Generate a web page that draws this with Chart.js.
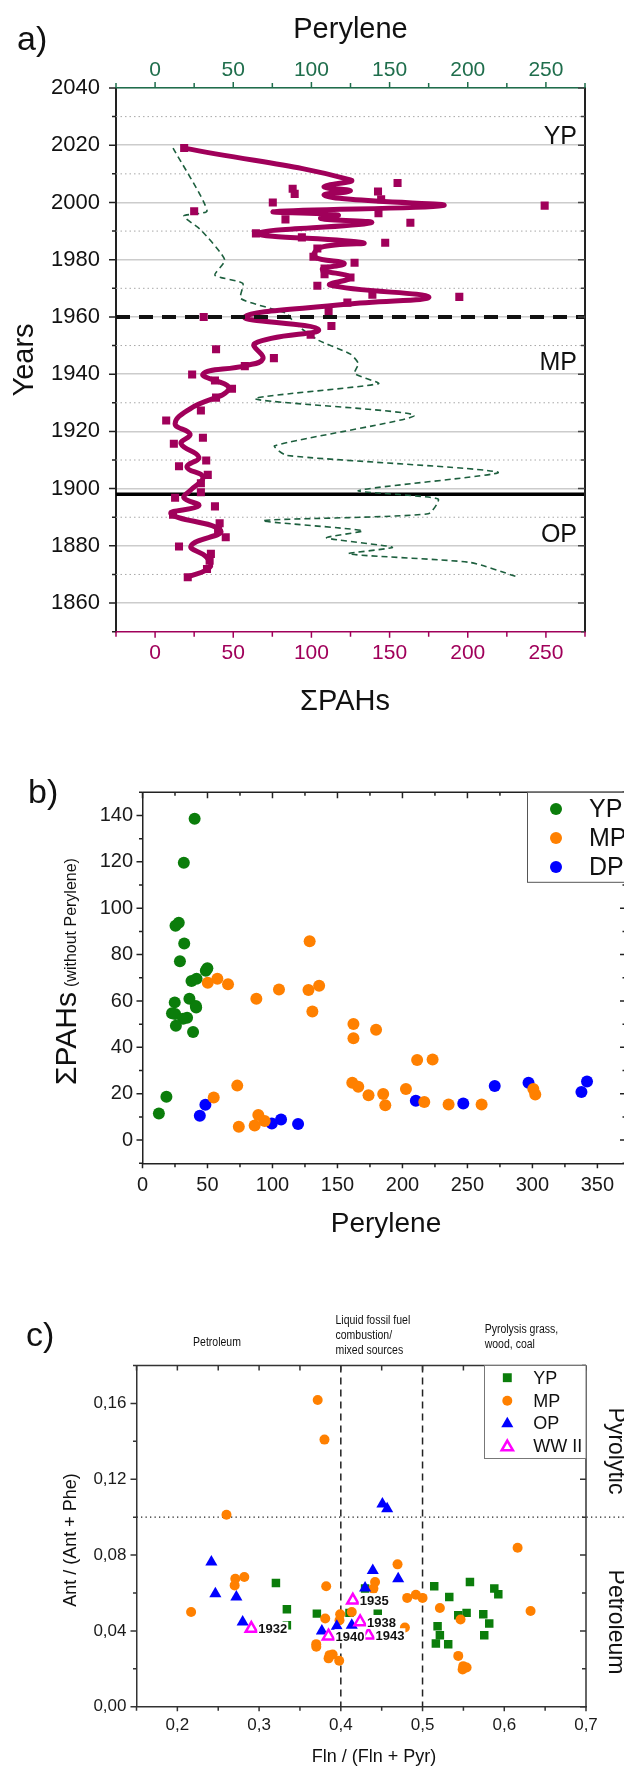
<!DOCTYPE html>
<html>
<head>
<meta charset="utf-8">
<script src="https://cdn.jsdelivr.net/npm/chart.js@4.4.1/dist/chart.umd.min.js"></script>
<style>
  html, body { margin: 0; padding: 0; background: #fff; overflow: hidden; width: 624px; height: 1767px; }
  canvas { position: absolute; left: 0; }
  #ca { top: 0; }
  #cb { top: 740px; }
  #cc { top: 1290px; }
</style>
</head>
<body>
<canvas id="ca" width="624" height="730"></canvas>
<canvas id="cb" width="640" height="520"></canvas>
<canvas id="cc" width="624" height="477"></canvas>
<script>
// ---- panel a: depth profile (sum of PAHs and perylene vs. year)
const yearTicks = [1860, 1880, 1900, 1920, 1940, 1960, 1980, 2000, 2020, 2040];
const pahTicks = [0, 50, 100, 150, 200, 250];
const periodBreaks = [1960, 1898];

const pahYears = [2019, 2006.8, 2004.8, 2003.8, 2003, 2001.1, 2000, 1998.9, 1996.9, 1996.2,
  1994.1, 1992.9, 1989.2, 1987.8, 1985.9, 1983.9, 1981, 1978.9, 1976.9, 1974.9,
  1973.8, 1970.9, 1967.8, 1967, 1965, 1961.8, 1960, 1956.8, 1953.8, 1948.7,
  1945.6, 1942.8, 1939.9, 1937.8, 1934.9, 1931.8, 1927.3, 1923.8, 1917.8, 1915.7,
  1909.8, 1907.8, 1904.8, 1901.9, 1898.7, 1896.8, 1893.8, 1890.9, 1887.9, 1885.9,
  1883, 1879.8, 1877.2, 1874.8, 1871.9, 1869];
const pahValues = [18.6, 155.1, 88.0, 142.6, 89.3, 144.6, 75.3, 249.2, 25.0, 142.9,
  83.4, 163.3, 64.5, 93.9, 147.2, 103.8, 101.3, 127.6, 108.4, 108.4,
  125, 103.8, 139, 194.6, 123, 111, 31.1, 112.8, 99.5, 39.0,
  76.0, 57.4, 23.7, 38.3, 49.2, 39.0, 29.3, 7.1, 30.6, 12.0,
  32.7, 15.3, 33.7, 29.3, 29.3, 12.8, 38.3, 11.5, 41.3, 40.3,
  45.2, 15.3, 35.7, 34.9, 33.2, 20.9];

// smoothed PAH curve
const pahCurveYears = [2019, 2007.9, 2005.5, 2004.1, 2002.6, 2001.1, 1998.9, 1996.8, 1995.6, 1994.4,
  1992.9, 1989.2, 1985.9, 1984.3, 1981, 1978.7, 1976.6, 1973.8, 1971.1, 1967,
  1964.4, 1960, 1955.6, 1950.7, 1945.4, 1943, 1940, 1934.9, 1927.9, 1922.7,
  1919, 1915.7, 1911, 1907.5, 1904, 1899.3, 1896.8, 1894, 1891.2, 1885.3,
  1880, 1876, 1872.5, 1869];
const pahCurveValues = [18.6, 125, 108, 125, 108, 125, 184, 76.5, 117, 106,
  138, 66, 133, 106, 102, 121, 107, 125, 112, 175,
  122, 57.4, 104.6, 63.8, 69, 58, 30.6, 47.2, 22.4, 12.8,
  22.4, 16.6, 28, 20.4, 30.6, 22.4, 18.4, 28, 10.2, 42,
  23, 33, 35, 20.4];

const perYears = [2019, 1997.1, 1995.3, 1990.4, 1979.9, 1974.6, 1971.7, 1966.4, 1961.2, 1957.7,
  1951.8, 1947, 1943.7, 1940.2, 1936.7, 1931.4, 1925.6, 1915, 1911.6, 1905.7,
  1899.3, 1896.4, 1891.2, 1888.8, 1885.3, 1882.8, 1879.5, 1877.2, 1874.2, 1869.3];
const perValues = [11.5, 33.2, 18.4, 29.3, 44.6, 38.3, 56.1, 54.8, 84.2, 89.3,
  104.6, 125, 130, 127.6, 142.9, 63.8, 165.8, 76.5, 84.2, 219.4,
  130, 181, 174.7, 68.9, 132.7, 109.7, 151.8, 123.7, 201.5, 230.9];

// ---- panel b: sum of PAHs (without perylene) vs. perylene
const perTicks = [0, 50, 100, 150, 200, 250, 300, 350];
const sumTicks = [0, 20, 40, 60, 80, 100, 120, 140];
const bPeriods = ['YP', 'MP', 'DP'];
const bYpX = [40.1, 31.8, 25.4, 27.9, 32.1, 28.8, 48.7, 49.9, 37.7, 41.6, 24.8, 36.1, 41.0, 41.3, 22.7, 25.1, 34.3, 31.2, 25.7, 38.9, 12.6, 18.4];
const bYpY = [138.6, 119.6, 92.4, 93.7, 84.8, 77.1, 73.0, 74.1, 68.6, 69.6, 59.4, 61.0, 57.8, 57.2, 54.7, 54.4, 52.8, 52.3, 49.3, 46.6, 11.5, 18.7];
const bMpX = [50.2, 57.6, 65.8, 87.6, 105.0, 127.7, 128.6, 135.9, 130.7, 162.3, 162.3, 179.7, 211.3, 223.2, 72.9, 54.8,
  74.1, 86.3, 89.1, 94.0, 161.4, 166.0, 173.9, 185.2, 186.8, 202.7, 216.8, 235.5, 260.9, 300.7, 302.2];
const bMpY = [67.9, 69.6, 67.2, 61.0, 65.0, 64.7, 85.8, 66.6, 55.5, 50.1, 43.9, 47.6, 34.5, 34.8, 23.5, 18.4,
  5.8, 6.3, 10.8, 8.2, 24.7, 23.0, 19.3, 19.9, 15.0, 22.0, 16.4, 15.4, 15.4, 22.0, 19.7];
const bDpX = [44.1, 48.4, 99.5, 106.6, 119.7, 210.3, 246.8, 271.0, 297.0, 337.7, 342.0];
const bDpY = [10.5, 15.3, 7.2, 8.9, 6.9, 17.0, 15.8, 23.3, 24.7, 20.7, 25.3];

// ---- panel c: Ant/(Ant+Phe) vs Fln/(Fln+Pyr)
const flnTicks = [0.2, 0.3, 0.4, 0.5, 0.6, 0.7];
const antTicks = [0, 0.04, 0.08, 0.12, 0.16];
const flnBounds = [0.4, 0.5];
const antBound = 0.1;
const cPeriods = ['YP', 'MP', 'OP', 'WW II'];
const cYpX = [0.3206, 0.334, 0.3707, 0.334, 0.4106, 0.4452, 0.4297, 0.5143, 0.5327, 0.558, 0.5878, 0.5927, 0.5437, 0.5539, 0.5743, 0.5816, 0.5755, 0.5184, 0.5212, 0.5163, 0.5314];
const cYpY = [0.0653, 0.0514, 0.0491, 0.043, 0.0495, 0.0491, 0.0623, 0.0635, 0.0579, 0.0658, 0.0623, 0.0593, 0.0482, 0.0495, 0.0488, 0.0439, 0.0377, 0.0425, 0.0377, 0.0333, 0.033];
const cMpX = [0.3717, 0.380, 0.2601, 0.2168, 0.2709, 0.2701, 0.2819, 0.3821, 0.3809, 0.3992, 0.3984, 0.4134, 0.3699, 0.37, 0.3862, 0.385, 0.39,
  0.398, 0.4419, 0.4399, 0.4694, 0.4812, 0.4918, 0.5, 0.5212, 0.4784, 0.5465, 0.5437, 0.5498, 0.5539, 0.549, 0.6163, 0.6322];
const cMpY = [0.1618, 0.1409, 0.1013, 0.05, 0.0675, 0.064, 0.0684, 0.0635, 0.0465, 0.0488, 0.0456, 0.05, 0.033, 0.0316, 0.0272, 0.0255, 0.0275,
  0.0242, 0.0658, 0.0623, 0.0751, 0.0574, 0.0591, 0.0574, 0.0521, 0.0418, 0.046, 0.0268, 0.0214, 0.0207, 0.0196, 0.0839, 0.0505];
const cOpX = [0.2416, 0.2465, 0.2722, 0.2799, 0.3768, 0.3951, 0.4134, 0.4297, 0.4391, 0.4702, 0.4509, 0.4567];
const cOpY = [0.0763, 0.0596, 0.0579, 0.0447, 0.04, 0.0425, 0.043, 0.0626, 0.0719, 0.0675, 0.107, 0.1044];
const cWwX = [0.2905, 0.3849, 0.4147, 0.4338, 0.4236];
const cWwY = [0.0412, 0.0372, 0.0561, 0.0377, 0.0447];
const cWwLabels = ['1932', '1940', '1935', '1943', '1938'];

const FONT = "'Liberation Sans', Arial, Helvetica, sans-serif";
const MAGENTA = '#a0005a';
const PER_GREEN = '#1d5f3e';
const AXIS_GREEN = '#1f6e4c';
const YP_GREEN = '#0b7d0b';
const MP_ORANGE = '#ff8000';
const OP_BLUE = '#0000ff';
const WW_PINK = '#ff00ff';

Chart.defaults.font.family = FONT;
Chart.defaults.color = '#111';

function pts(xs, ys) {
  return xs.map((x, i) => ({ x: x, y: ys[i] }));
}

function setTicks(list) {
  return s => { s.ticks = list.map(v => ({ value: v })); };
}

function minorVals(list, scale) {
  const step = list[1] - list[0];
  const out = [];
  for (let v = list[0] - step / 2; v <= scale.max + step * 1e-6; v += step) {
    if (v >= scale.min - step * 1e-6) out.push(v);
  }
  return out;
}

function line(ctx, x1, y1, x2, y2, color, width, dash) {
  ctx.save();
  ctx.strokeStyle = color;
  ctx.lineWidth = width;
  ctx.setLineDash(dash || []);
  ctx.beginPath();
  ctx.moveTo(x1, y1);
  ctx.lineTo(x2, y2);
  ctx.stroke();
  ctx.restore();
}

function frameTicks(ctx, a, side, scale, major, minor, lenMaj, lenMin, inward, color) {
  ctx.save();
  ctx.strokeStyle = color || '#222';
  ctx.lineWidth = 1.5;
  ctx.beginPath();
  const add = (v, len) => {
    const p = scale.getPixelForValue(v);
    const d = inward ? -len : len;
    if (side === 'left') { ctx.moveTo(a.left, p); ctx.lineTo(a.left - d, p); }
    else if (side === 'right') { ctx.moveTo(a.right, p); ctx.lineTo(a.right + d, p); }
    else if (side === 'top') { ctx.moveTo(p, a.top); ctx.lineTo(p, a.top - d); }
    else { ctx.moveTo(p, a.bottom); ctx.lineTo(p, a.bottom + d); }
  };
  major.forEach(v => add(v, lenMaj));
  minor.forEach(v => add(v, lenMin));
  ctx.stroke();
  ctx.restore();
}

function text(ctx, str, x, y, o) {
  ctx.save();
  ctx.translate(x, y);
  if (o.rotate) ctx.rotate(o.rotate);
  if (o.sx) ctx.scale(o.sx, 1);
  ctx.font = o.font;
  ctx.fillStyle = o.color || '#111';
  ctx.textAlign = o.align || 'left';
  ctx.textBaseline = o.baseline || 'alphabetic';
  ctx.fillText(str, 0, 0);
  const w = ctx.measureText(str).width;
  ctx.restore();
  return w;
}

function marker(ctx, style, x, y, r, fill, stroke, lw) {
  ctx.save();
  ctx.beginPath();
  if (style === 'circle') {
    ctx.arc(x, y, r, 0, Math.PI * 2);
  } else if (style === 'rect') {
    const h = r * Math.SQRT1_2;
    ctx.rect(x - h, y - h, 2 * h, 2 * h);
  } else {
    for (let k = 0; k < 3; k++) {
      const ang = k * 2 * Math.PI / 3;
      const px = x + Math.sin(ang) * r, py = y - Math.cos(ang) * r;
      if (k) ctx.lineTo(px, py); else ctx.moveTo(px, py);
    }
    ctx.closePath();
  }
  if (fill) { ctx.fillStyle = fill; ctx.fill(); }
  if (stroke) { ctx.strokeStyle = stroke; ctx.lineWidth = lw; ctx.stroke(); }
  ctx.restore();
}

const baseOptions = {
  responsive: false,
  animation: false,
  events: [],
  plugins: { legend: { display: false }, tooltip: { enabled: false } }
};

// ================= panel a =================
const panelA = {
  id: 'panelA',
  beforeDatasetsDraw(chart) {
    const { ctx, chartArea: a, scales: { y } } = chart;
    minorVals(yearTicks, y).forEach(v => {
      if (v > y.min && v < y.max) {
        const p = y.getPixelForValue(v);
        line(ctx, a.left, p, a.right, p, '#a8a8a8', 1, [1.5, 3]);
      }
    });
    const pb = y.getPixelForValue(periodBreaks[1]);
    line(ctx, a.left, pb, a.right, pb, '#000', 3.5);
  },
  afterDatasetsDraw(chart) {
    const { ctx, chartArea: a, scales: { y } } = chart;
    const p = y.getPixelForValue(periodBreaks[0]);
    line(ctx, a.left, p, a.right, p, '#111', 4, [14, 9]);
  },
  afterDraw(chart) {
    const { ctx, chartArea: a, scales: { x, x2, y } } = chart;
    line(ctx, a.right, a.top, a.right, a.bottom, '#222', 2);
    const ym = minorVals(yearTicks, y);
    const xm = minorVals(pahTicks, x);
    frameTicks(ctx, a, 'left', y, yearTicks, ym, 7, 4, false, '#222');
    frameTicks(ctx, a, 'right', y, yearTicks, ym, 7, 4, true, '#444');
    frameTicks(ctx, a, 'top', x2, pahTicks, xm, 6, 5, false, AXIS_GREEN);
    frameTicks(ctx, a, 'bottom', x, pahTicks, xm, 6, 5, false, MAGENTA);

    text(ctx, 'a)', 17, 50, { font: '34px ' + FONT });
    text(ctx, 'Perylene', (a.left + a.right) / 2, 38, { font: '29px ' + FONT, align: 'center' });
    text(ctx, 'Years', 33, 360, { font: '29px ' + FONT, align: 'center', rotate: -Math.PI / 2 });
    text(ctx, '\u03A3PAHs', 345, 710, { font: '29px ' + FONT, align: 'center' });
    const lab = [['YP', 2020.6], ['MP', 1941.6], ['OP', 1881.4]];
    lab.forEach(([t, v]) => {
      text(ctx, t, a.right - 8, y.getPixelForValue(v), { font: '25px ' + FONT, align: 'right' });
    });
  }
};

new Chart(document.getElementById('ca'), {
  type: 'scatter',
  data: {
    datasets: [
      { data: pts(pahCurveValues, pahCurveYears), showLine: true, pointRadius: 0, borderColor: MAGENTA,
        borderWidth: 5, tension: 0.45, xAxisID: 'x', yAxisID: 'y' },
      { data: pts(pahValues, pahYears), pointStyle: 'rect', pointRadius: 5.7, pointBackgroundColor: MAGENTA,
        pointBorderWidth: 0, xAxisID: 'x', yAxisID: 'y' },
      { data: pts(perValues, perYears), showLine: true, pointRadius: 0, borderColor: PER_GREEN,
        borderWidth: 1.6, borderDash: [6, 4], tension: 0.2, xAxisID: 'x2', yAxisID: 'y' }
    ]
  },
  options: Object.assign({}, baseOptions, {
    layout: { padding: { left: 0, right: 39, top: 0, bottom: 0 } },
    scales: {
      y: {
        type: 'linear', position: 'left', min: 1850, max: 2040,
        afterBuildTicks: setTicks(yearTicks),
        ticks: { padding: 16, color: '#111', font: { size: 22 }, callback: v => String(v) },
        grid: { color: '#cccccc', lineWidth: 1.5, drawTicks: false },
        border: { color: '#222', width: 2 },
        afterFit: s => { s.width = 116; }
      },
      x: {
        type: 'linear', position: 'bottom', min: -25, max: 275,
        afterBuildTicks: setTicks(pahTicks),
        ticks: { padding: 9, color: MAGENTA, font: { size: 21 }, callback: v => String(v) },
        grid: { display: false, drawTicks: false },
        border: { color: MAGENTA, width: 1.5 },
        afterFit: s => { s.height = 98.3; }
      },
      x2: {
        type: 'linear', position: 'top', min: -25, max: 275,
        afterBuildTicks: setTicks(pahTicks),
        ticks: { padding: 5, color: AXIS_GREEN, font: { size: 21 }, callback: v => String(v) },
        grid: { display: false, drawTicks: false },
        border: { color: AXIS_GREEN, width: 1.5 },
        afterFit: s => { s.height = 88; }
      }
    }
  }),
  plugins: [panelA]
});

// ================= panel b =================
const panelB = {
  id: 'panelB',
  afterDraw(chart) {
    const { ctx, chartArea: a, scales: { x, y } } = chart;
    line(ctx, a.left, a.top, a.right, a.top, '#222', 1.5);
    line(ctx, a.right, a.top, a.right, a.bottom, '#222', 1.5);
    const ym = minorVals(sumTicks, y);
    const xm = minorVals(perTicks, x);
    frameTicks(ctx, a, 'left', y, sumTicks, ym, 6, 3.5, false);
    frameTicks(ctx, a, 'right', y, sumTicks, ym, 6, 3.5, true);
    frameTicks(ctx, a, 'bottom', x, perTicks, xm, 5, 4, false);
    frameTicks(ctx, a, 'top', x, perTicks, xm, 6, 3.5, true);

    // legend
    ctx.save();
    ctx.fillStyle = '#fff';
    ctx.strokeStyle = '#555';
    ctx.lineWidth = 1;
    ctx.fillRect(527.5, a.top, 120, 90);
    ctx.strokeRect(527.5, a.top, 120, 90);
    ctx.restore();
    const cols = [YP_GREEN, MP_ORANGE, OP_BLUE];
    bPeriods.forEach((t, i) => {
      const yy = 69 + i * 29;
      marker(ctx, 'circle', 556, yy, 6, cols[i]);
      text(ctx, t, 589, yy + 1, { font: '25px ' + FONT, baseline: 'middle' });
    });

    text(ctx, 'b)', 28, 63, { font: '34px ' + FONT });
    text(ctx, 'Perylene', 386, 492, { font: '28px ' + FONT, align: 'center' });
    const w = text(ctx, '\u03A3PAHs', 76, 345, { font: '30px ' + FONT, rotate: -Math.PI / 2 });
    text(ctx, '(without Perylene)', 76, 345 - w - 5, { font: '16px ' + FONT, rotate: -Math.PI / 2 });
  }
};

new Chart(document.getElementById('cb'), {
  type: 'scatter',
  data: {
    datasets: [
      { label: 'YP', data: pts(bYpX, bYpY), pointRadius: 6, pointBackgroundColor: YP_GREEN, pointBorderWidth: 0 },
      { label: 'MP', data: pts(bMpX, bMpY), pointRadius: 6, pointBackgroundColor: MP_ORANGE, pointBorderWidth: 0 },
      { label: 'DP', data: pts(bDpX, bDpY), pointRadius: 6, pointBackgroundColor: OP_BLUE, pointBorderWidth: 0 }
    ]
  },
  options: Object.assign({}, baseOptions, {
    layout: { padding: { left: 0, right: 14, top: 52.3, bottom: 0 } },
    scales: {
      x: {
        type: 'linear', position: 'bottom', min: 0, max: 372,
        afterBuildTicks: setTicks(perTicks),
        ticks: { padding: 10, color: '#1a1a1a', font: { size: 20 }, callback: v => String(v) },
        grid: { display: false, drawTicks: false },
        border: { color: '#222', width: 1.5 },
        afterFit: s => { s.height = 96.7; }
      },
      y: {
        type: 'linear', position: 'left', min: -10, max: 150,
        afterBuildTicks: setTicks(sumTicks),
        ticks: { padding: 9.5, color: '#1a1a1a', font: { size: 20 }, callback: v => String(v) },
        grid: { display: false, drawTicks: false },
        border: { color: '#222', width: 1.5 },
        afterFit: s => { s.width = 142.5; }
      }
    }
  }),
  plugins: [panelB]
});

// ================= panel c =================
const panelC = {
  id: 'panelC',
  beforeDatasetsDraw(chart) {
    const { ctx, chartArea: a, scales: { x, y } } = chart;
    flnBounds.forEach(v => {
      const p = x.getPixelForValue(v);
      line(ctx, p, a.top, p, a.bottom, '#222', 1.5, [7, 5]);
    });
    const py = y.getPixelForValue(antBound);
    line(ctx, a.left, py, chart.width, py, '#222', 1.3, [1.3, 3.2]);
  },
  afterDatasetsDraw(chart) {
    const { ctx, scales: { x, y } } = chart;
    cWwLabels.forEach((t, i) => {
      const px = x.getPixelForValue(cWwX[i]) + 7;
      const py = y.getPixelForValue(cWwY[i]);
      ctx.save();
      ctx.font = 'bold 13px ' + FONT;
      const w = ctx.measureText(t).width;
      ctx.fillStyle = '#fff';
      ctx.fillRect(px - 1, py - 7, w + 2, 14);
      ctx.restore();
      text(ctx, t, px, py + 1, { font: 'bold 13px ' + FONT, baseline: 'middle', color: '#111' });
    });
  },
  afterDraw(chart) {
    const { ctx, chartArea: a, scales: { x, y } } = chart;
    line(ctx, a.left, a.top, a.right, a.top, '#333', 1.5);
    line(ctx, a.right, a.top, a.right, a.bottom, '#333', 1.5);
    const ym = minorVals(antTicks, y);
    const xm = minorVals(flnTicks, x);
    frameTicks(ctx, a, 'left', y, antTicks, ym, 6, 3.5, false, '#333');
    frameTicks(ctx, a, 'right', y, antTicks, ym, 6, 4, true, '#333');
    frameTicks(ctx, a, 'bottom', x, flnTicks, xm, 4.5, 4, false, '#333');
    frameTicks(ctx, a, 'top', x, flnTicks, xm, 5, 5, true, '#333');

    // legend
    ctx.save();
    ctx.fillStyle = '#fff';
    ctx.strokeStyle = '#777';
    ctx.lineWidth = 1;
    ctx.fillRect(484.5, a.top, a.right - 484.5, 93);
    ctx.strokeRect(484.5, a.top, a.right - 484.5, 93);
    ctx.restore();
    const rowsY = [87.7, 110.7, 132.7, 156];
    marker(ctx, 'rect', 507.3, rowsY[0], 6.3, YP_GREEN);
    marker(ctx, 'circle', 507.3, rowsY[1], 5, MP_ORANGE);
    marker(ctx, 'triangle', 507.3, rowsY[2] + 1, 7, OP_BLUE);
    marker(ctx, 'triangle', 507.3, rowsY[3] + 1, 6.5, '#fff', WW_PINK, 2.5);
    cPeriods.forEach((t, i) => {
      text(ctx, t, 533.3, rowsY[i] + 1, { font: '18px ' + FONT, baseline: 'middle' });
    });

    text(ctx, 'c)', 26, 56, { font: '34px ' + FONT });
    const nf = '12.5px ' + FONT;
    text(ctx, 'Petroleum', 217, 56, { font: nf, align: 'center', sx: 0.84 });
    text(ctx, 'Liquid fossil fuel', 335.5, 34.3, { font: nf, sx: 0.84 });
    text(ctx, 'combustion/', 335.5, 49.3, { font: nf, sx: 0.84 });
    text(ctx, 'mixed sources', 335.5, 64.3, { font: nf, sx: 0.84 });
    text(ctx, 'Pyrolysis grass,', 484.7, 43.3, { font: nf, sx: 0.84 });
    text(ctx, 'wood, coal', 484.7, 57.7, { font: nf, sx: 0.84 });

    text(ctx, 'Fln / (Fln + Pyr)', 374, 471.5, { font: '18px ' + FONT, align: 'center' });
    text(ctx, 'Ant / (Ant + Phe)', 76, 250, { font: '18px ' + FONT, align: 'center', rotate: -Math.PI / 2 });
    text(ctx, 'Pyrolytic', 615, 161, { font: '23px ' + FONT, align: 'center', baseline: 'middle', rotate: Math.PI / 2 });
    text(ctx, 'Petroleum', 615, 332, { font: '23px ' + FONT, align: 'center', baseline: 'middle', rotate: Math.PI / 2 });
  }
};

new Chart(document.getElementById('cc'), {
  type: 'scatter',
  data: {
    datasets: [
      { label: 'WW II', data: pts(cWwX, cWwY), pointStyle: 'triangle', pointRadius: 6.5, pointBackgroundColor: '#fff',
        pointBorderColor: WW_PINK, pointBorderWidth: 2.5, order: 0 },
      { label: 'OP', data: pts(cOpX, cOpY), pointStyle: 'triangle', pointRadius: 7, pointBackgroundColor: OP_BLUE,
        pointBorderWidth: 0, order: 1 },
      { label: 'MP', data: pts(cMpX, cMpY), pointStyle: 'circle', pointRadius: 5, pointBackgroundColor: MP_ORANGE,
        pointBorderWidth: 0, order: 2 },
      { label: 'YP', data: pts(cYpX, cYpY), pointStyle: 'rect', pointRadius: 6, pointBackgroundColor: YP_GREEN,
        pointBorderWidth: 0, order: 3 }
    ]
  },
  options: Object.assign({}, baseOptions, {
    layout: { padding: { left: 0, right: 38, top: 75.5, bottom: 0 } },
    scales: {
      x: {
        type: 'linear', position: 'bottom', min: 0.15, max: 0.7,
        afterBuildTicks: setTicks(flnTicks),
        ticks: { padding: 8, color: '#1a1a1a', font: { size: 17 }, callback: v => v.toFixed(1).replace('.', ',') },
        grid: { display: false, drawTicks: false },
        border: { color: '#333', width: 1.5 },
        afterFit: s => { s.height = 60.3; }
      },
      y: {
        type: 'linear', position: 'left', min: 0, max: 0.18,
        afterBuildTicks: setTicks(antTicks),
        ticks: { padding: 10, color: '#1a1a1a', font: { size: 17 }, callback: v => v.toFixed(2).replace('.', ',') },
        grid: { display: false, drawTicks: false },
        border: { color: '#333', width: 1.5 },
        afterFit: s => { s.width = 136.5; }
      }
    }
  }),
  plugins: [panelC]
});
</script>
</body>
</html>
